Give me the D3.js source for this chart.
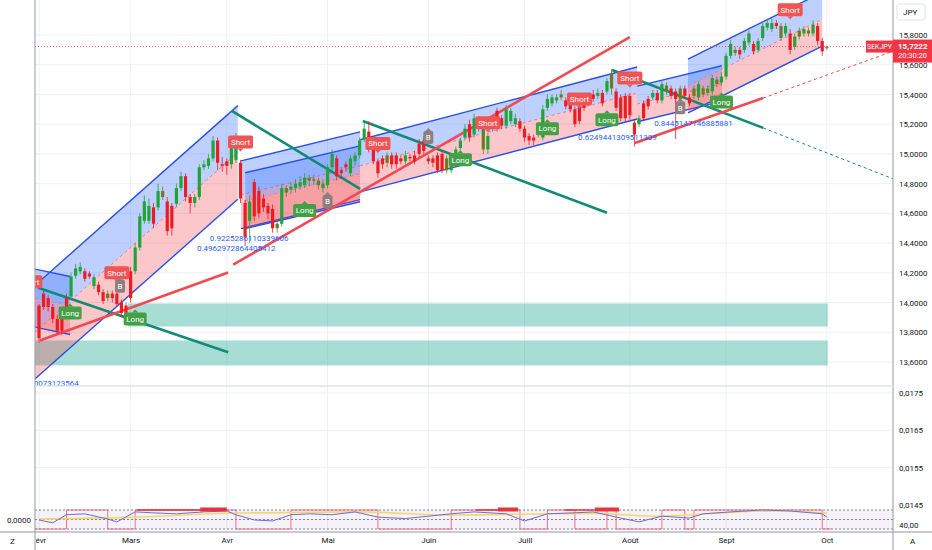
<!DOCTYPE html>
<html>
<head>
<meta charset="utf-8">
<script src="https://cdn.jsdelivr.net/npm/d3@7"></script>
<style>
  body { margin: 0; background: #fff; }
  svg { display: block; font-family: Roboto, "Noto Sans", sans-serif; }
</style>
</head>
<body>
<svg id="chart" width="932" height="550"></svg>
<script>
// --- Data (bar index = trading day, 0 = 3 Feb) ---
const monthTicks = [["févr", 0], ["Mars", 20], ["Avr", 41], ["Mai", 63], ["Juin", 85],
  ["Juill", 106], ["Août", 129], ["Sept", 150], ["Oct", 172]];
const priceTicks = [15.8, 15.6, 15.4, 15.2, 15.0, 14.8, 14.6, 14.4, 14.2, 14.0, 13.8, 13.6];
const subTicks = [0.0175, 0.0165, 0.0155, 0.0145];
const lastPrice = 15.7222;

// [open, high, low, close]
const ohlc = [
  [13.98,13.99,13.73,13.76],[14.06,14.08,13.95,13.97],[14.03,14.05,13.94,13.97],[13.97,13.99,13.86,13.89],
  [13.89,13.92,13.79,13.81],[13.93,13.96,13.78,13.81],[14.03,14.06,13.90,13.93],[14.04,14.20,14.02,14.175],
  [14.18,14.26,14.16,14.23],[14.21,14.27,14.19,14.24],[14.21,14.23,14.14,14.16],[14.195,14.21,14.16,14.175],
  [14.11,14.19,14.09,14.17],[14.12,14.14,14.05,14.07],[14.07,14.09,13.99,14.01],[14.06,14.08,14.01,14.03],
  [14.06,14.08,14.00,14.03],[14.06,14.08,13.97,13.99],[14.00,14.02,13.90,13.93],[13.98,14.00,13.89,13.93],
  [14.21,14.24,14.00,14.03],[14.21,14.40,14.19,14.37],[14.37,14.60,14.35,14.58],[14.55,14.72,14.53,14.68],
  [14.55,14.70,14.53,14.65],[14.64,14.67,14.50,14.53],[14.64,14.80,14.62,14.75],[14.71,14.78,14.69,14.75],
  [14.68,14.71,14.45,14.48],[14.65,14.67,14.45,14.50],[14.665,14.80,14.64,14.77],[14.77,14.88,14.75,14.85],
  [14.85,14.87,14.68,14.71],[14.71,14.73,14.60,14.67],[14.67,14.73,14.64,14.71],[14.71,14.93,14.69,14.91],
  [14.91,14.96,14.89,14.93],[14.92,15.00,14.90,14.97],[14.97,15.12,14.95,15.09],[15.09,15.11,14.89,14.94],
  [14.93,14.98,14.88,14.92],[14.95,14.97,14.86,14.92],[14.93,15.10,14.90,15.07],[14.96,15.14,14.94,15.07],
  [14.94,14.96,14.67,14.70],[14.67,14.69,14.38,14.44],[14.55,14.72,14.40,14.68],[14.81,14.83,14.55,14.58],
  [14.75,14.78,14.57,14.60],[14.70,14.73,14.61,14.64],[14.65,14.67,14.56,14.60],[14.63,14.66,14.47,14.50],
  [14.50,14.56,14.47,14.53],[14.53,14.80,14.51,14.77],[14.74,14.79,14.71,14.77],[14.76,14.81,14.73,14.78],
  [14.77,14.83,14.74,14.80],[14.78,14.85,14.76,14.81],[14.79,14.87,14.77,14.84],[14.82,14.86,14.78,14.84],
  [14.83,14.86,14.79,14.82],[14.82,14.84,14.76,14.79],[14.77,14.83,14.74,14.80],[14.79,14.93,14.77,14.91],
  [14.91,15.03,14.89,15.00],[14.97,14.99,14.82,14.85],[14.89,14.91,14.84,14.87],[14.93,14.95,14.88,14.91],
  [14.87,14.99,14.85,14.97],[14.95,15.01,14.92,14.99],[14.99,15.11,14.97,15.09],[15.10,15.22,15.08,15.17],
  [15.15,15.22,15.01,15.03],[15.03,15.05,14.93,14.95],[14.95,14.97,14.84,14.87],[14.97,14.99,14.90,14.93],
  [14.94,15.01,14.91,14.99],[14.99,15.01,14.90,14.93],[14.99,15.01,14.90,14.93],[14.97,14.99,14.93,14.95],
  [14.95,15.02,14.93,14.99],[14.98,15.00,14.95,14.97],[14.99,15.02,14.93,14.95],[15.07,15.10,14.98,15.00],
  [15.09,15.12,15.00,15.02],[14.97,14.99,14.93,14.95],[14.97,14.99,14.91,14.94],[14.99,15.01,14.87,14.89],
  [15.00,15.02,14.87,14.89],[14.89,14.99,14.87,14.97],[14.89,14.95,14.87,14.93],[14.97,15.05,14.95,15.03],
  [15.04,15.11,15.02,15.09],[15.11,15.20,15.09,15.17],[15.20,15.23,15.08,15.11],[15.13,15.27,15.11,15.24],
  [15.22,15.25,15.15,15.17],[15.17,15.19,15.00,15.03],[15.03,15.14,15.00,15.12],[15.17,15.25,15.15,15.22],
  [15.29,15.31,15.15,15.17],[15.24,15.26,15.17,15.19],[15.19,15.33,15.17,15.30],[15.22,15.31,15.20,15.29],
  [15.20,15.27,15.18,15.24],[15.22,15.24,15.15,15.17],[15.17,15.19,15.08,15.11],[15.12,15.14,15.06,15.09],
  [15.11,15.13,15.06,15.09],[15.17,15.19,15.11,15.13],[15.11,15.33,15.09,15.30],[15.31,15.40,15.29,15.37],
  [15.34,15.40,15.32,15.38],[15.36,15.40,15.34,15.38],[15.38,15.43,15.36,15.40],[15.36,15.38,15.30,15.32],
  [15.34,15.36,15.28,15.30],[15.30,15.32,15.18,15.20],[15.32,15.35,15.20,15.22],[15.37,15.39,15.29,15.31],
  [15.36,15.39,15.33,15.35],[15.40,15.43,15.35,15.37],[15.39,15.44,15.37,15.41],[15.41,15.43,15.32,15.34],
  [15.42,15.51,15.40,15.49],[15.44,15.57,15.40,15.54],[15.42,15.44,15.29,15.31],[15.38,15.40,15.22,15.24],
  [15.39,15.41,15.22,15.24],[15.39,15.41,15.23,15.26],[15.21,15.23,15.05,15.13],[15.20,15.26,15.18,15.24],
  [15.34,15.36,15.22,15.24],[15.37,15.39,15.30,15.32],[15.38,15.43,15.36,15.41],[15.41,15.43,15.34,15.36],
  [15.36,15.49,15.34,15.47],[15.46,15.48,15.40,15.42],[15.44,15.46,15.37,15.39],[15.42,15.44,15.10,15.37],
  [15.44,15.46,15.35,15.37],[15.44,15.46,15.37,15.39],[15.38,15.40,15.32,15.34],[15.44,15.46,15.37,15.39],
  [15.38,15.49,15.36,15.47],[15.40,15.46,15.38,15.44],[15.41,15.46,15.39,15.44],[15.42,15.53,15.40,15.51],
  [15.47,15.52,15.45,15.50],[15.48,15.55,15.46,15.52],[15.52,15.68,15.50,15.66],[15.66,15.77,15.64,15.74],
  [15.68,15.72,15.66,15.70],[15.70,15.72,15.64,15.67],[15.70,15.78,15.68,15.76],[15.75,15.83,15.73,15.81],
  [15.74,15.76,15.67,15.69],[15.70,15.78,15.68,15.76],[15.78,15.88,15.76,15.86],[15.85,15.91,15.83,15.88],
  [15.84,15.91,15.82,15.88],[15.88,15.90,15.84,15.86],[15.86,15.88,15.76,15.78],[15.81,15.88,15.79,15.86],
  [15.81,15.84,15.67,15.70],[15.72,15.81,15.70,15.79],[15.79,15.85,15.77,15.83],[15.81,15.86,15.79,15.84],
  [15.83,15.85,15.79,15.81],[15.81,15.90,15.79,15.87],[15.86,15.88,15.73,15.76],[15.76,15.78,15.66,15.69],
  [15.71,15.73,15.70,15.7222]
];
const neutralBars = [15, 27, 52, 54, 59, 60, 61, 76, 89, 96, 97, 109, 114, 125, 137, 140, 143, 145, 148, 152, 162, 166, 168];

// regression channels: [fromIdx, toIdx, midStart, midEnd, halfWidth]
const channels = [
  [-0.9, 43.4, 13.80, 15.01, 0.315],
  [-0.9, 6.8, 14.03, 13.98, 0.195],
  [44.1, 70.1, 14.725, 14.92, 0.228],
  [45.0, 70.1, 14.685, 14.866, 0.188],
  [70.1, 130.6, 14.92, 15.41, 0.175],
  [130.6, 149.1, 15.336, 15.473, 0.12],
  [141.7, 171.0, 15.457, 15.906, 0.181]
];
const tealLines = [[[-0.2, 14.10], [41.3, 13.665]], [[42.1, 15.289], [70.1, 14.765]],
  [[70.7, 15.222], [124.0, 14.604]], [[125.1, 15.564], [158.1, 15.175]]];
const tealExt = [[158.1, 15.175], [186.5, 14.832]];
const redLines = [[[0.2, 13.745], [41.3, 14.202]], [[42.4, 14.255], [129.0, 15.785]],
  [[130.1, 15.074], [158.1, 15.376]]];
const redExt = [[158.1, 15.376], [186.5, 15.691]];
// zones: [fromIdx, toIdx, top, bottom]
const zones = [[19.4, 172.2, 13.994, 13.839], [-2, 172.2, 13.745, 13.577]];

const shortLabels = [[-2, 14.14], [17, 14.20], [44, 15.08], [74, 15.07], [98, 15.21], [118, 15.37], [129, 15.51], [164, 15.97]];
const longLabels = [[6.8, 13.93], [21, 13.89], [58, 14.62], [92, 14.96], [111, 15.17], [124, 15.23], [149, 15.35]];
const bLabels = [[17.7, 14.11], [63, 14.68], [85, 15.11], [140, 15.31]];
const numberTexts = [["0.9225286110339606", 37.3, 14.436], ["0.4962972864405412", 34.5, 14.363],
  ["0.6249441309511339", 117.7, 15.114], ["0.8445147146885881", 134.3, 15.208], ["0.0073123564", -2.6, 13.457]];

// lower oscillator pane
const regimeOn = [[6, 15], [21, 43], [55, 74], [90, 105], [111, 117], [124, 126], [136, 141], [143, 171]];
const redThin = [[21.4, 40.8], [95.4, 104.6], [114.8, 126.6]];
const redThick = [[35.2, 41], [100.2, 104.6], [121.4, 126.6]];
const oscPts = [[0, 49], [3, 43], [6, 60], [10, 62], [15, 51], [17, 45], [21, 66], [25, 64], [30, 62], [36, 66],
  [41, 68], [43, 60], [47, 49], [51, 47], [55, 60], [59, 62], [64, 60], [69, 66], [74, 55], [80, 52], [85, 57],
  [90, 62], [95, 66], [102, 62], [106, 47], [111, 62], [117, 64], [121, 66], [127, 53], [131, 45], [136, 57],
  [142, 53], [145, 62], [151, 66], [158, 70], [164, 68], [171, 62], [172, 55]];
const trendPts = [[0, 51], [21, 55], [43, 63.7], [69, 66], [90, 59.5], [108, 61.6], [121, 63], [134, 57], [160, 68], [172, 64]];

// --- Layout & scales ---
const svg = d3.select("#chart");
const L = 35, R = 893;
const x = d3.scaleLinear().domain([0, 172]).range([39, 826.8]);
const y = d3.scaleLinear().domain([13.6, 15.8]).range([362, 35]);
const ySub = d3.scaleLinear().domain([0.0145, 0.0175]).range([505, 393]);
const yOsc = d3.scaleLinear().domain([30, 70]).range([529, 510]);
const comma = f => v => d3.format(f)(v).replace(".", ",");

const defs = svg.append("defs");
defs.append("clipPath").attr("id", "pricePane").append("rect")
  .attr("x", L).attr("y", 0).attr("width", R - L).attr("height", 386);
defs.append("clipPath").attr("id", "lowPane").append("rect")
  .attr("x", L).attr("y", 386).attr("width", R - L).attr("height", 146);
defs.append("clipPath").attr("id", "timeAxis").append("rect")
  .attr("x", L + 1).attr("y", 532).attr("width", R - L - 1).attr("height", 18);

// --- Grid ---
const grid = svg.append("g");
grid.selectAll("line.v").data(monthTicks).join("line")
  .attr("x1", d => x(d[1])).attr("x2", d => x(d[1]))
  .attr("y1", 0).attr("y2", 532).attr("stroke", "#eef0f5");
grid.selectAll("line.h").data(priceTicks).join("line")
  .attr("x1", L).attr("x2", R).attr("y1", d => y(d)).attr("y2", d => y(d)).attr("stroke", "#eef0f5");
grid.selectAll("line.s").data(subTicks.slice(0, 3)).join("line")
  .attr("x1", L).attr("x2", R).attr("y1", d => ySub(d)).attr("y2", d => ySub(d)).attr("stroke", "#eef0f5");

// --- Price pane ---
const pane = svg.append("g").attr("clip-path", "url(#pricePane)");

pane.selectAll("rect.zone").data(zones).join("rect")
  .attr("x", d => x(d[0])).attr("width", d => x(d[1]) - x(d[0]))
  .attr("y", d => y(d[2])).attr("height", d => y(d[3]) - y(d[2]))
  .attr("fill", "rgba(34,171,148,0.4)");

channels.forEach(([a, b, m0, m1, h]) => {
  const up = [[a, m0 + h], [b, m1 + h]], mid = [[a, m0], [b, m1]], lo = [[a, m0 - h], [b, m1 - h]];
  const poly = (p, q) => [...p, ...q.slice().reverse()].map(d => [x(d[0]), y(d[1])].join(",")).join(" ");
  pane.append("polygon").attr("points", poly(up, mid)).attr("fill", "rgba(41,98,255,0.3)");
  pane.append("polygon").attr("points", poly(mid, lo)).attr("fill", "rgba(242,54,69,0.28)");
  const ln = d3.line().x(d => x(d[0])).y(d => y(d[1]));
  pane.append("path").attr("d", ln(up)).attr("stroke", "#2950e0").attr("stroke-width", 1.4).attr("fill", "none");
  pane.append("path").attr("d", ln(lo)).attr("stroke", "#2950e0").attr("stroke-width", 1.4).attr("fill", "none");
  pane.append("path").attr("d", ln(mid)).attr("stroke", "#f27a82").attr("stroke-width", 1)
    .attr("stroke-dasharray", "3,3").attr("fill", "none");
});

const line = d3.line().x(d => x(d[0])).y(d => y(d[1]));
pane.selectAll("path.teal").data(tealLines).join("path")
  .attr("d", line).attr("stroke", "#138a76").attr("stroke-width", 2.6).attr("fill", "none");
pane.append("path").attr("d", line(tealExt)).attr("stroke", "#138a76").attr("stroke-width", 1)
  .attr("stroke-dasharray", "3,3").attr("fill", "none");
pane.selectAll("path.red").data(redLines).join("path")
  .attr("d", line).attr("stroke", "#f04a52").attr("stroke-width", 2.6).attr("fill", "none");
pane.append("path").attr("d", line(redExt)).attr("stroke", "#f04a52").attr("stroke-width", 1)
  .attr("stroke-dasharray", "3,3").attr("fill", "none");

// candles
const candleColor = (d, i) => i === ohlc.length - 1 ? "#787b86"
  : neutralBars.includes(i) ? "#6f7a1f" : d[3] >= d[0] ? "#22a23a" : "#ec1c24";
const candles = pane.selectAll("g.candle").data(ohlc).join("g");
candles.append("line")
  .attr("x1", (d, i) => x(i)).attr("x2", (d, i) => x(i))
  .attr("y1", d => y(d[1])).attr("y2", d => y(d[2]))
  .attr("stroke", candleColor).attr("stroke-width", 0.8);
candles.append("rect")
  .attr("x", (d, i) => x(i) - 1.6).attr("width", 3.2)
  .attr("y", d => y(Math.max(d[0], d[3])))
  .attr("height", d => Math.max(1, Math.abs(y(d[0]) - y(d[3]))))
  .attr("fill", candleColor);

// price line
pane.append("line").attr("x1", L).attr("x2", R).attr("y1", y(lastPrice)).attr("y2", y(lastPrice))
  .attr("stroke", "#f23645").attr("stroke-width", 0.8).attr("stroke-dasharray", "1,2");

// signal labels
function tag(g, cx, cy, txt, fill, w, pointUp) {
  const t = g.append("g").attr("transform", `translate(${cx},${cy})`);
  t.append("rect").attr("x", -w / 2).attr("y", -6.5).attr("width", w).attr("height", 13).attr("rx", 2).attr("fill", fill);
  t.append("path").attr("d", pointUp ? "M-3,-6.5L0,-9.5L3,-6.5Z" : "M-3,6.5L0,9.5L3,6.5Z").attr("fill", fill);
  t.append("text").attr("text-anchor", "middle").attr("dy", "0.35em").attr("font-size", 8)
    .attr("fill", "#fff").text(txt);
}
shortLabels.forEach(d => tag(pane, x(d[0]), y(d[1]), "Short", "#f05454", 25, false));
longLabels.forEach(d => tag(pane, x(d[0]), y(d[1]), "Long", "#43a047", 23, true));
bLabels.forEach(d => tag(pane, x(d[0]), y(d[1]), "B", "#8d7f80", 10, true));

pane.selectAll("text.num").data(numberTexts).join("text")
  .attr("x", d => x(d[1])).attr("y", d => y(d[2])).attr("dy", "0.35em")
  .attr("font-size", 8).attr("fill", "#2962ff").text(d => d[0]);

// --- Lower oscillator pane ---
const low = svg.append("g").attr("clip-path", "url(#lowPane)");
low.append("rect").attr("x", L).attr("width", R - L).attr("y", yOsc(70)).attr("height", yOsc(30) - yOsc(70))
  .attr("fill", "rgba(126,87,194,0.08)");
low.selectAll("line.lvl").data([70, 50, 30]).join("line")
  .attr("x1", L).attr("x2", R).attr("y1", d => yOsc(d)).attr("y2", d => yOsc(d))
  .attr("stroke", "#5d606b").attr("stroke-width", 0.8).attr("stroke-dasharray", "2,2");
const wave = [[-2, 30]];
regimeOn.forEach(([a, b]) => wave.push([a, 30], [a, 70], [b, 70], [b, 30]));
wave.push([173, 30]);
const oscLine = d3.line().x(d => x(d[0])).y(d => yOsc(d[1]));
low.append("path").attr("d", oscLine(wave)).attr("stroke", "#f06080").attr("stroke-width", 0.9).attr("fill", "none");
low.append("path").attr("d", oscLine.curve(d3.curveMonotoneX)(trendPts)).attr("stroke", "#f5d76e")
  .attr("stroke-width", 1.6).attr("fill", "none");
low.append("path").attr("d", oscLine.curve(d3.curveLinear)(oscPts)).attr("stroke", "#6c6cd8")
  .attr("stroke-width", 1).attr("fill", "none");
low.selectAll("line.rt").data(redThin).join("line")
  .attr("x1", d => x(d[0])).attr("x2", d => x(d[1])).attr("y1", yOsc(70)).attr("y2", yOsc(70))
  .attr("stroke", "#e8323c").attr("stroke-width", 1.6);
low.selectAll("rect.rk").data(redThick).join("rect")
  .attr("x", d => x(d[0])).attr("width", d => x(d[1]) - x(d[0]))
  .attr("y", yOsc(70) - 2.5).attr("height", 4).attr("fill", "#e8323c");

// --- Axes ---
const styleAxis = g => {
  g.attr("font-family", null);
  g.select(".domain").remove();
  g.selectAll("text").attr("font-size", 8).attr("fill", "#131722");
};
svg.append("g").attr("transform", `translate(${R},0)`)
  .call(d3.axisRight(y).tickValues(priceTicks).tickSize(0).tickPadding(6).tickFormat(comma(".4f")))
  .call(styleAxis);
svg.append("g").attr("transform", `translate(${R},0)`)
  .call(d3.axisRight(ySub).tickValues(subTicks).tickSize(0).tickPadding(6).tickFormat(comma(".4f")))
  .call(styleAxis);
// clip on an untransformed wrapper so the clip rect stays in page coordinates
svg.append("g").attr("clip-path", "url(#timeAxis)")
  .append("g").attr("transform", "translate(0,532)")
  .call(d3.axisBottom(x).tickValues(monthTicks.map(d => d[1])).tickSize(0).tickPadding(5)
    .tickFormat((d, i) => monthTicks[i][0]))
  .call(styleAxis);

svg.append("text").attr("x", R + 6).attr("y", yOsc(40) + 1).attr("dy", "0.35em")
  .attr("font-size", 8).attr("fill", "#131722").text("40,00");
svg.append("text").attr("x", L - 4).attr("y", yOsc(50) + 1).attr("dy", "0.35em").attr("text-anchor", "end")
  .attr("font-size", 8).attr("fill", "#131722").text("0,0000");

// pane borders
svg.append("line").attr("x1", L).attr("x2", L).attr("y1", 0).attr("y2", 550).attr("stroke", "#9598a1");
svg.append("line").attr("x1", R).attr("x2", R).attr("y1", 0).attr("y2", 550).attr("stroke", "#9598a1");
svg.append("line").attr("x1", L).attr("x2", R).attr("y1", 386).attr("y2", 386).attr("stroke", "#e0e3eb").attr("stroke-width", 1.5);
svg.append("line").attr("x1", 0).attr("x2", 932).attr("y1", 532).attr("y2", 532).attr("stroke", "#9598a1");

// last price tags
svg.append("rect").attr("x", 866).attr("y", y(lastPrice) - 6).attr("width", 27).attr("height", 12).attr("fill", "#f23645");
svg.append("text").attr("x", 879.5).attr("y", y(lastPrice)).attr("dy", "0.35em").attr("text-anchor", "middle")
  .attr("font-size", 7).attr("fill", "#fff").text("SEKJPY");
svg.append("rect").attr("x", R).attr("y", y(lastPrice) - 7).attr("width", 39).attr("height", 23).attr("fill", "#f23645");
svg.append("text").attr("x", R + 5).attr("y", y(lastPrice)).attr("dy", "0.35em")
  .attr("font-size", 8).attr("font-weight", "bold").attr("fill", "#fff").text(comma(".4f")(lastPrice));
svg.append("text").attr("x", R + 5).attr("y", y(lastPrice) + 9).attr("dy", "0.35em")
  .attr("font-size", 7.5).attr("fill", "#fff").text("20:30:20");

svg.append("rect").attr("x", 897).attr("y", 4).attr("width", 28).attr("height", 16).attr("rx", 2)
  .attr("fill", "#fff").attr("stroke", "#e0e3eb");
svg.append("text").attr("x", 903).attr("y", 12).attr("dy", "0.35em").attr("font-size", 8).attr("fill", "#131722").text("JPY");
svg.append("text").attr("x", 10).attr("y", 541).attr("dy", "0.35em").attr("font-size", 8).attr("fill", "#131722").text("Z");
svg.append("text").attr("x", 910).attr("y", 541).attr("dy", "0.35em").attr("font-size", 8).attr("fill", "#131722").text("A");
</script>
</body>
</html>
